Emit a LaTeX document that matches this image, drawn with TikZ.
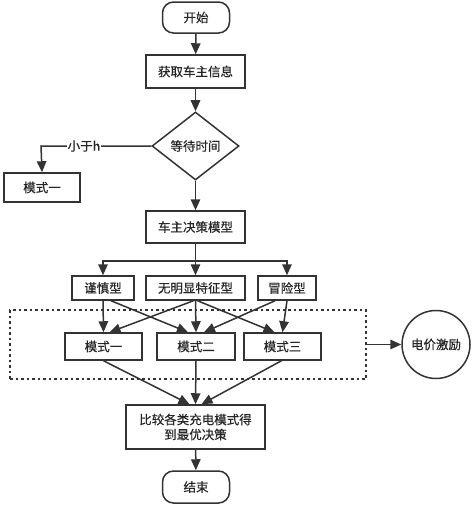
\documentclass[tikz,border=0pt]{standalone}
\usepackage{fontspec}
\setmainfont{Noto Sans CJK SC}[FakeBold=0.5]
\usepackage{tikz}
\usetikzlibrary{arrows.meta,positioning,shapes.geometric}

\definecolor{linegray}{HTML}{333333}
\tikzset{
	box/.style={draw=linegray,line width=1.5pt,inner sep=1pt,align=center,text=black!85,font=\fontsize{12.5}{15}\selectfont},
	term/.style={box,rounded corners=11pt},
	arr/.style={draw=linegray,line width=1.5pt,-{Triangle[length=11pt,width=9.5pt]}},
}

\begin{document}
\begin{tikzpicture}[x=1pt,y=-1pt]
			\useasboundingbox (0,0) rectangle (472,506);
			% main column
			\node[term,minimum width=67pt,minimum height=31pt] (start) at (196,17.5) {开始};
			\node[box,minimum width=99pt,minimum height=33pt] (info) at (195.5,71.5) {获取车主信息};
			\node[box,diamond,aspect=1.28,inner sep=0pt,minimum width=87pt,minimum height=68pt] (wait) at (195.5,146) {等待时间};
			\node[box,minimum width=76pt,minimum height=29pt] (modeL) at (42,187.5) {模式一};
			\node[box,minimum width=99pt,minimum height=32pt] (decision) at (195.5,227) {车主决策模型};
			% owner types
			\node[box,minimum width=62pt,minimum height=24pt] (careful) at (103,288) {谨慎型};
			\node[box,minimum width=99pt,minimum height=24pt] (neutral) at (195.5,288) {无明显特征型};
			\node[box,minimum width=58pt,minimum height=24pt] (risky) at (287,288) {冒险型};
			% charging modes
			\node[draw=linegray,line width=1.6pt,dash pattern=on 2.5pt off 3pt,minimum width=356pt,minimum height=69pt] (frame) at (188,344.5) {};
			\node[box,minimum width=77pt,minimum height=27pt] (m1) at (103.5,346.5) {模式一};
			\node[box,minimum width=78pt,minimum height=27pt] (m2) at (196,346.5) {模式二};
			\node[box,minimum width=77pt,minimum height=27pt] (m3) at (282.5,346.5) {模式三};
			\node[box,circle,minimum size=68pt,inner sep=0pt] (price) at (436,344.5) {电价激励};
			\node[box,minimum width=139pt,minimum height=44pt] (compare) at (195.5,427) {比较各类充电模式得\\到最优决策};
			\node[term,minimum width=67pt,minimum height=32pt] (end) at (196,487) {结束};

			\draw[arr] (start) -- (info);
			\draw[arr] (info) -- (wait);
			\draw[arr] (wait) -- (decision);
			\coordinate (bend) at (41,146);
			\draw[arr] (wait.west) -- (bend) -- (modeL.north);
			\node[fill=white,inner sep=1pt,text=black!85,font=\fontsize{12.5}{15}\selectfont] (less) at (84,146) {小于h};
			\coordinate (split) at (195.5,261);
			\draw[arr] (decision) -- (neutral);
			\draw[arr] (split) -| (careful.north);
			\draw[arr] (split) -| (risky.north);
			\draw[arr] (careful.south) -- (m1.north);
			\draw[arr] ([xshift=8pt]careful.south) -- ([xshift=-8pt]m2.north);
			\draw[arr] ([xshift=-2pt]neutral.south) -- ([xshift=6pt]m1.north);
			\draw[arr] (neutral.south) -- (m2.north);
			\draw[arr] ([xshift=2pt]neutral.south) -- ([xshift=-8pt]m3.north);
			\draw[arr] ([xshift=-12pt]risky.south) -- ([xshift=8pt]m2.north);
			\draw[arr] (risky.south) -- (m3.north);
			\draw[arr] (frame.east) -- (price.west);
			\draw[arr] (m1.south) -- ([xshift=-6pt]compare.north);
			\draw[arr] (m2.south) -- (compare.north);
			\draw[arr] ([xshift=-1pt]m3.south) -- ([xshift=6pt]compare.north);
			\draw[arr] (compare) -- (end);
		\end{tikzpicture}
\end{document}
